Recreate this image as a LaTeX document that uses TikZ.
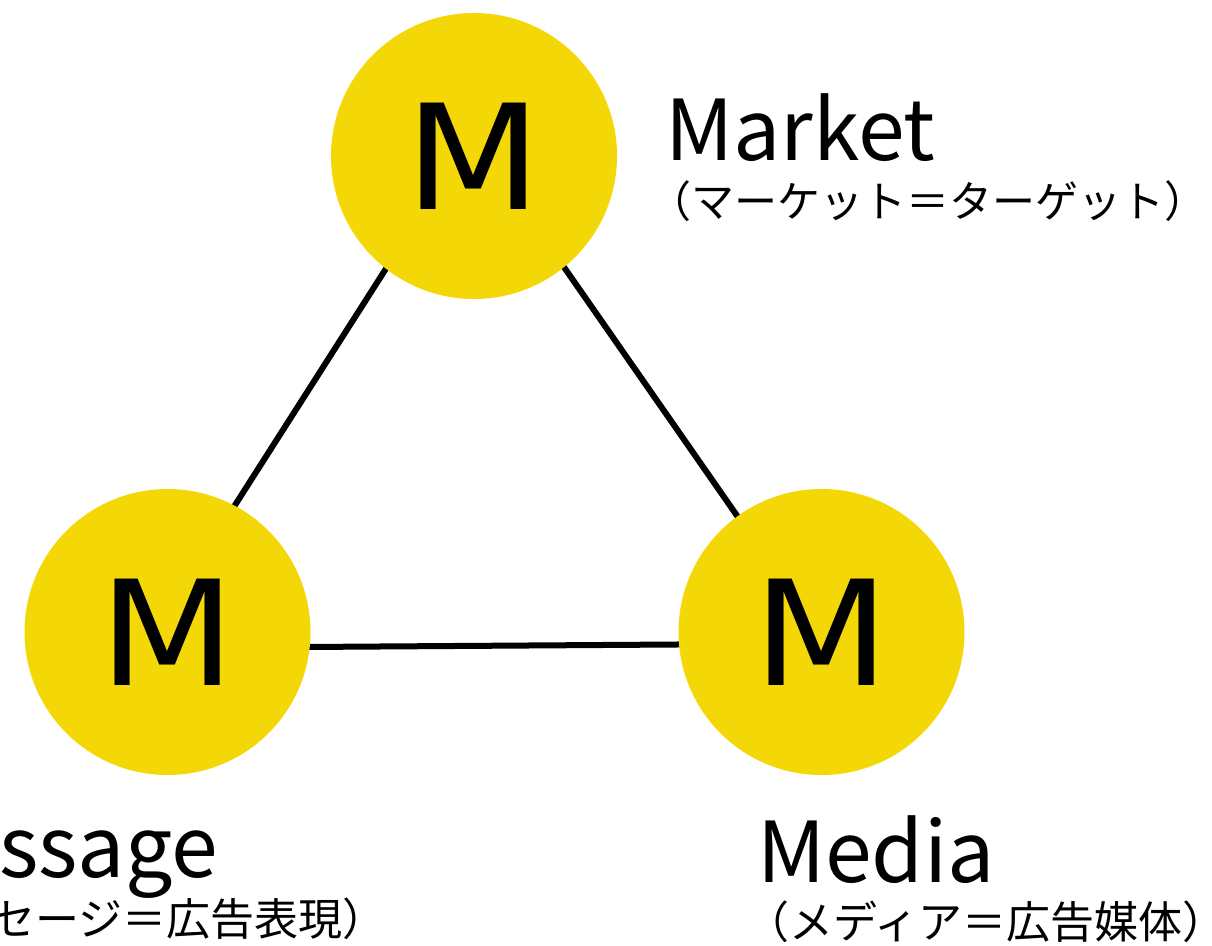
\documentclass[tikz,border=0pt]{standalone}
\usepackage{fontspec}
\setmainfont{Noto Sans CJK JP}
\newfontfamily\titlefont{Noto Sans CJK JP}
\newfontfamily\circfont[FakeStretch=1.08]{DejaVu Sans}
\newfontfamily\jpfont{Noto Sans CJK JP}
\usetikzlibrary{backgrounds}
\definecolor{myyellow}{RGB}{244,215,6}
\begin{document}
\begin{tikzpicture}[x=1pt,y=-1pt,
  mcircle/.style={circle,fill=myyellow,minimum size=286pt,inner sep=0pt,
    font=\circfont\fontsize{146}{146}\selectfont},
  link/.style={line width=6pt,black,shorten <=-4pt,shorten >=-4pt},
  title/.style={inner sep=0pt,font=\titlefont\fontsize{84}{84}\selectfont},
  sub/.style={inner sep=0pt,font=\jpfont\fontsize{44}{44}\selectfont}]
\useasboundingbox (0,0) rectangle (1212,945);
\clip (0,0) rectangle (1212,945);
\node[mcircle] (market) at (474,156) {M};
\node[mcircle] (message) at (167.5,632) {M};
\node[mcircle] (media) at (821.5,632) {M};
\begin{scope}[on background layer]
  \draw[link] (market.232.6) -- (message.62.7);
  \draw[link] (market.309.3) -- (media.126);
  \draw[link] (message.354.4) -- (media.185.6);
\end{scope}
\node[title,anchor=base west] (tmarket) at (665,160) {Market};
\node[sub,anchor=base west,font=\jpfont\fontsize{43}{43}\selectfont] (smarket) at (648,217) {（マーケット＝ターゲット）};
\node[title,anchor=base east] (tmessage) at (218,877) {Message};
\node[sub,anchor=base east] (smessage) at (387,935) {（メッセージ＝広告表現）};
\node[title,anchor=base west] (tmedia) at (757,882) {Media};
\node[sub,anchor=base west] (smedia) at (745,938) {（メディア＝広告媒体）};
\end{tikzpicture}
\end{document}
